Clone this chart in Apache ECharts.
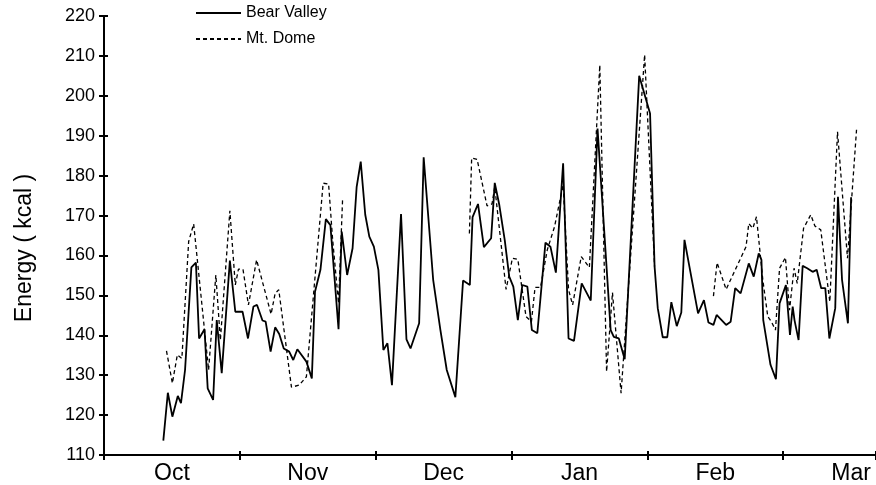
<!DOCTYPE html>
<html><head><meta charset="utf-8">
<script src="https://cdn.jsdelivr.net/npm/echarts@6/dist/echarts.min.js"></script>
<style>html,body{margin:0;padding:0;background:#fff}#c{width:876px;height:485px}</style>
</head><body><div id="c"></div>
<script>
// Month labels (each month drawn as 30 day-units on the x axis)
const monthLabels = ['Oct', 'Nov', 'Dec', 'Jan', 'Feb', 'Mar'];
const seriesNames = ['Bear Valley', 'Mt. Dome'];

// Bear Valley: day offset from Oct 1, energy (kcal)
const bearDay = [13.1,14.1,15.1,16.3,17.0,17.9,19.3,20.3,21.0,22.2,22.9,24.1,24.9,26.0,27.8,29.0,30.6,31.8,33.0,33.8,35.0,35.7,36.8,37.8,38.7,39.7,40.9,41.8,42.7,44.7,45.9,46.6,47.8,49.0,50.0,51.8,52.5,53.7,54.9,55.8,56.7,57.7,58.6,59.6,60.6,61.7,62.6,63.6,65.6,66.8,67.7,69.6,70.6,72.7,74.3,75.7,77.6,79.3,80.8,81.4,82.6,83.9,85.5,86.3,87.3,88.5,89.5,90.4,91.4,92.4,93.5,94.5,95.7,97.5,98.6,99.8,101.4,102.6,103.8,105.5,107.5,109.0,111.9,112.6,113.7,115.0,118.2,120.6,121.6,122.3,123.4,124.4,125.3,126.5,127.5,128.2,131.2,132.5,133.5,134.6,135.3,137.4,138.4,139.4,140.6,142.4,143.5,144.6,145.2,145.6,147.2,148.4,149.2,150.6,151.5,152.1,152.5,153.4,154.3,155.3,156.5,157.4,158.4,159.3,160.2,161.5,162.1,163.0,164.3,165.0];
const bearVal = [113.6,125.6,119.6,124.8,123.0,131.3,157.0,158.2,139.2,141.5,126.7,123.8,143.8,130.5,158.7,145.9,145.9,139.2,147.2,147.6,143.7,143.4,135.9,142.0,140.3,136.7,135.9,133.8,136.5,133.4,129.2,150.9,156.4,169.1,167.6,141.5,166.0,155.1,161.8,177.2,183.5,170.2,164.7,162.2,156.4,136.3,138.0,127.5,170.4,139.0,136.7,143.0,184.6,153.9,141.3,131.3,124.5,153.7,152.6,169.6,172.9,162.1,164.3,178.2,172.7,163.9,154.7,152.2,143.8,152.6,152.2,141.3,140.5,163.2,162.2,155.7,183.1,139.2,138.6,153.0,148.7,191.8,141.3,139.6,139.2,134.0,205.0,195.6,157.2,146.8,139.5,139.5,148.3,142.3,145.7,163.9,145.5,148.8,143.2,142.6,145.1,142.6,143.4,151.8,150.5,158.0,154.7,160.5,158.9,143.8,132.6,129.0,148.0,152.6,140.1,147.2,143.8,138.8,157.4,156.8,155.9,156.4,151.8,151.8,139.2,146.8,174.7,153.9,143.0,174.6];

// Mt. Dome: day offset from Oct 1, energy (kcal); null = no record
const domeDay = [13.8,15.1,16.2,17.2,18.7,19.8,23.1,24.7,25.7,27.8,29.0,29.7,30.7,31.9,33.7,36.9,37.8,38.6,41.4,43.1,44.7,48.4,49.6,50.5,51.8,52.7,66.0,80.7,81.2,82.4,84.6,85.7,86.3,88.8,90.2,91.4,93.2,94.4,95.2,96.4,97.9,99.5,101.4,102.6,103.5,105.4,107.2,109.5,111.0,112.3,114.2,119.4,121.6,128.0,134.6,135.4,137.4,141.8,142.4,143.3,144.1,145.5,146.6,147.4,148.3,149.2,150.5,151.4,152.4,153.1,154.5,156.1,157.0,158.3,160.3,162.0,164.2,166.2];
const domeVal = [136.1,128.0,135.1,134.2,163.5,167.9,131.3,155.1,138.8,171.2,152.6,156.6,156.5,147.6,158.9,145.3,150.5,151.4,127.0,127.5,129.6,178.1,177.9,163.9,148.0,174.3,null,165.5,184.4,184.1,172.4,172.9,177.2,151.5,159.3,159.0,144.7,143.4,152.0,152.0,161.4,167.2,177.7,151.4,147.6,159.7,157.0,207.7,130.9,150.7,125.5,210.3,157.2,null,149.8,158.2,151.5,162.2,168.0,166.8,169.7,153.9,144.7,143.4,141.3,156.8,159.5,146.3,156.8,153.0,166.8,170.2,167.4,166.4,148.4,191.0,159.3,191.5];

const X_MAX = 170.5;
const FONT = "'Liberation Sans', Arial, Helvetica, sans-serif";

const bearData = bearDay.map((d, i) => [d, bearVal[i]]);
const domeData = domeDay.map((d, i) => [d, domeVal[i] === null ? '-' : domeVal[i]]);

const chart = echarts.init(document.getElementById('c'), null, {renderer: 'canvas'});
const axisCol = '#000';
chart.setOption({
  animation: false,
  backgroundColor: '#fff',
  textStyle: {fontFamily: FONT, color: '#000'},
  grid: {left: 104, right: 0, top: 16, bottom: 30, containLabel: false},
  legend: {
    data: seriesNames,
    orient: 'vertical',
    left: 195, top: 5,
    itemWidth: 45, itemHeight: 14, itemGap: 10,
    padding: 0,
    itemStyle: {color: 'rgba(0,0,0,0)', borderWidth: 0, opacity: 0},
    textStyle: {fontSize: 16, color: '#000', fontFamily: FONT}
  },
  xAxis: [
    {type: 'value', position: 'bottom', min: 0, max: X_MAX, interval: 30,
     axisLine: {show: true, onZero: false, lineStyle: {color: axisCol, width: 2}},
     axisTick: {show: true, length: 5, lineStyle: {color: axisCol, width: 2}},
     axisLabel: {show: false}, splitLine: {show: false}},
    {type: 'value', position: 'bottom', min: 0, max: X_MAX, interval: 30,
     axisLine: {show: false, onZero: false},
     axisTick: {show: true, inside: true, length: 4, lineStyle: {color: axisCol, width: 2}},
     axisLabel: {show: false}, splitLine: {show: false}},
    {type: 'value', position: 'bottom', min: 0, max: X_MAX, interval: 15,
     axisLine: {show: false, onZero: false}, axisTick: {show: false}, splitLine: {show: false},
     axisLabel: {show: true, margin: 7, fontSize: 23, color: '#000', fontFamily: FONT,
       showMinLabel: false, showMaxLabel: false,
       formatter: v => (Math.round(v) % 30 === 15) ? monthLabels[(Math.round(v) - 15) / 30] : ''}}
  ],
  yAxis: [
    {type: 'value', position: 'left', min: 110, max: 220, interval: 10,
     name: 'Energy ( kcal )', nameLocation: 'middle', nameGap: 68,
     nameTextStyle: {fontSize: 23, color: '#000', fontFamily: FONT, padding: [0, 0, 0, -25]},
     axisLine: {show: true, onZero: false, lineStyle: {color: axisCol, width: 2}},
     axisTick: {show: true, length: 5, lineStyle: {color: axisCol, width: 2}},
     axisLabel: {margin: 9, fontSize: 18, color: '#000', fontFamily: FONT},
     splitLine: {show: false}},
    {type: 'value', position: 'left', min: 110, max: 220, interval: 10,
     axisLine: {show: false, onZero: false},
     axisTick: {show: true, inside: true, length: 4, lineStyle: {color: axisCol, width: 2}},
     axisLabel: {show: false}, splitLine: {show: false}}
  ],
  series: [
    {name: seriesNames[0], type: 'line', xAxisIndex: 0, yAxisIndex: 0, data: bearData,
     symbol: 'none', connectNulls: false,
     lineStyle: {color: '#000', width: 1.8, type: 'solid'}, itemStyle: {color: '#000'}},
    {name: seriesNames[1], type: 'line', xAxisIndex: 0, yAxisIndex: 0, data: domeData,
     symbol: 'none', connectNulls: false,
     lineStyle: {color: '#000', width: 1.3, type: [4, 3]}, itemStyle: {color: '#000'}}
  ]
});
</script></body></html>
